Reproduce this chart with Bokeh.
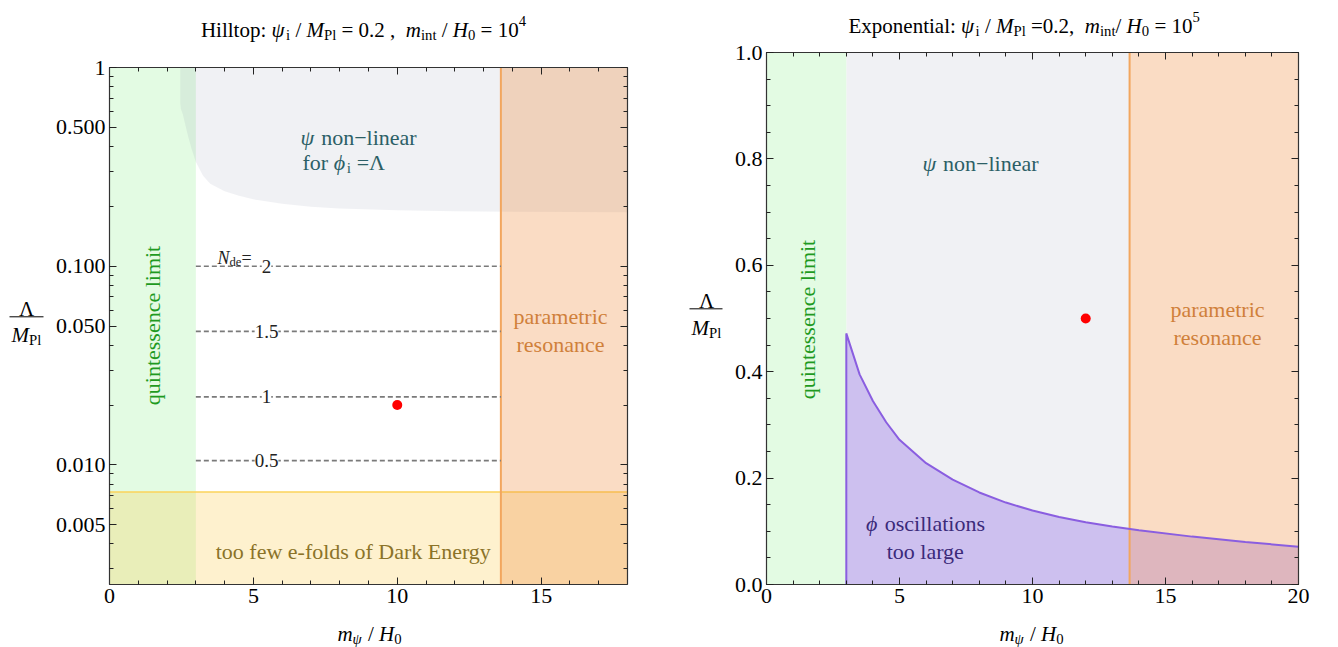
import math
from bokeh.plotting import figure
from bokeh.models import (Label, Arrow, FixedTicker, LinearAxis, LogAxis, Range1d,
                          CustomJSTickFormatter, PrintfTickFormatter)
from bokeh.layouts import row, column
from bokeh.embed import file_html
from bokeh.resources import INLINE

FONT = "Liberation Serif"

# ---------------- data: Hilltop panel ----------------
hill_m_range = (0.0, 18.0)
hill_lam_range = (0.0025, 1.0)
hill_quint_limit = 3.0
hill_param_res = 13.6
hill_efold_limit = 0.0073
hill_nl_m = [2.46, 2.48, 2.55, 2.7, 2.85, 3.0, 3.25, 3.5, 4.0, 4.5, 5.0, 6.0, 7.0, 8.0, 10.0, 12.0, 14.0, 18.0]
hill_nl_lam = [0.66, 0.62, 0.58, 0.47, 0.39, 0.335, 0.285, 0.26, 0.238, 0.226, 0.217, 0.206,
               0.199, 0.195, 0.191, 0.189, 0.188, 0.187]
nde_labels = ["2", "1.5", "1", "0.5"]
nde_lam = [0.1, 0.047, 0.022, 0.0105]
hill_point_m = [10.0]
hill_point_lam = [0.020]
hill_x_ticks = [0, 5, 10, 15]
hill_x_minor = list(range(0, 19))
hill_y_ticks = [0.005, 0.01, 0.05, 0.1, 0.5, 1.0]
hill_y_minor = [0.003, 0.004, 0.006, 0.007, 0.008, 0.009,
                0.02, 0.03, 0.04, 0.06, 0.07, 0.08, 0.09,
                0.2, 0.3, 0.4, 0.6, 0.7, 0.8, 0.9]

# ---------------- data: Exponential panel ----------------
exp_m_range = (0.0, 20.0)
exp_lam_range = (0.0, 1.0)
exp_quint_limit = 3.0
exp_param_res = 13.65
exp_osc_m = [3.0, 3.5, 4.0, 4.5, 5.0, 6.0, 7.0, 8.0, 9.0, 10.0, 11.0, 12.0, 13.0, 14.0, 16.0, 18.0, 20.0]
exp_osc_lam = [0.472, 0.395, 0.345, 0.305, 0.272, 0.228, 0.197, 0.173, 0.154, 0.139, 0.127,
               0.117, 0.109, 0.102, 0.09, 0.08, 0.071]
exp_point_m = [12.0]
exp_point_lam = [0.5]
exp_x_ticks = [0, 5, 10, 15, 20]
exp_x_minor = list(range(0, 21))
exp_y_ticks = [0.0, 0.2, 0.4, 0.6, 0.8, 1.0]
exp_y_minor = [i * 0.05 for i in range(21)]

# ---------------- colours ----------------
GREEN = "#e3fbe3"
GRAY = "#8a96aa"; GRAY_A = 0.13
YELLOW = "#fbc83c"; YELLOW_A = 0.25
ORANGE = "#f08c3c"; ORANGE_A = 0.30
ORANGE_LINE = "#f2a65e"
YELLOW_LINE = "#fbd35a"
PURPLE = "#8c64e6"; PURPLE_A = 0.35
PURPLE_LINE = "#8a5ee0"
C_NL = "#2c5f66"
C_Q = "#1f9a1f"
C_PR = "#d0803a"
C_EF = "#8b7328"
C_OSC = "#3b2a7a"

# ---------------- text helpers ----------------
CW = {' ': .25, ',': .25, '-': .333, '.': .25, '/': .278, ':': .278, '=': .564,
      'A': .722, 'D': .722, 'E': .611, 'H': .722, 'M': .889, 'N': .722, 'P': .556,
      'a': .444, 'c': .444, 'd': .5, 'e': .444, 'f': .333, 'g': .5, 'i': .278, 'k': .5,
      'l': .278, 'm': .778, 'n': .5, 'o': .5, 'p': .5, 'r': .333, 's': .389, 't': .278,
      'u': .5, 'w': .722, 'x': .5, 'y': .5, 'ψ': .69, 'ϕ': .6, 'Λ': .72, '−': .564}
CWI = {'M': .833, 'm': .722, 'H': .722, 'N': .667, 'ψ': .69, 'ϕ': .6}


def cwidth(c, italic):
    if italic and c in CWI:
        return CWI[c]
    if c.isdigit():
        return 0.5
    return CW.get(c, 0.5)


def rich(p, runs, x, y, size, color, align="left"):
    items = []
    cur = 0.0
    for txt, st in runs:
        s = size * (0.7 if st in ("sub", "isub", "sup") else 1.0)
        italic = st in ("i", "isub")
        core = txt.strip(' ')
        if not core:
            cur += len(txt) * 0.25 * s
            continue
        lead = len(txt) - len(txt.lstrip(' '))
        trail = len(txt) - len(txt.rstrip(' '))
        cur += lead * 0.25 * s
        w = sum(cwidth(c, italic) for c in core) * s
        if st in ("sub", "isub"):
            dy = -0.24 * size
        elif st == "sup":
            dy = 0.42 * size
        else:
            dy = 0.0
        items.append((core, cur, dy, s, italic))
        cur += w + trail * 0.25 * s
    shift = -cur / 2 if align == "center" else 0.0
    for core, off, dy, s, it in items:
        p.add_layout(Label(x=x, y=y, x_offset=off + shift, y_offset=dy, text=core,
                           text_font=FONT, text_font_size=f"{s:.1f}px",
                           text_font_style="italic" if it else "normal",
                           text_color=color, text_baseline="alphabetic",
                           text_align="left"))


def style_axes(p, blanks):
    for ax in p.axis:
        ax.axis_line_color = "#333333"
        ax.axis_line_width = 1.2
        ax.major_tick_in = 7
        ax.major_tick_out = 0
        ax.minor_tick_in = 4
        ax.minor_tick_out = 0
        ax.major_tick_line_color = "#222222"
        ax.minor_tick_line_color = "#222222"
        ax.major_label_text_font = FONT
        ax.major_label_text_font_size = "22px"
        ax.major_label_text_color = "black"
        ax.major_label_standoff = 4
    for ax in blanks:
        ax.major_label_text_font_size = "0px"
        ax.major_label_standoff = 0


def helper(w, h):
    f = figure(width=w, height=h, x_range=Range1d(0, w), y_range=Range1d(h, 0),
               output_backend="svg", toolbar_location=None,
               x_axis_location=None, y_axis_location=None,
               min_border=0, min_border_left=0, min_border_right=0,
               min_border_top=0, min_border_bottom=0)
    f.xgrid.visible = False
    f.ygrid.visible = False
    f.outline_line_color = None
    f.background_fill_color = "white"
    f.border_fill_color = "white"
    return f


def base_fig(w, h, xr, yr, bl, br, bt, bb, log=False):
    kw = dict(y_axis_type="log") if log else {}
    f = figure(width=w, height=h, x_range=xr, y_range=yr, output_backend="svg",
               toolbar_location=None, min_border_left=bl, min_border_right=br,
               min_border_top=bt, min_border_bottom=bb, **kw)
    f.xgrid.visible = False
    f.ygrid.visible = False
    f.outline_line_color = None
    f.background_fill_color = "white"
    f.border_fill_color = "white"
    return f


blank = CustomJSTickFormatter(code="return '';")

# ================= LEFT: Hilltop =================
L_X0, L_X1, L_Y0, L_Y1 = 109, 627, 67, 584
LT_H, LX_H, LY_W, LW = 55, 30, 48, 680
LM_H = 647 - LT_H - LX_H


def lx(px):
    return hill_m_range[0] + (px - L_X0) * (hill_m_range[1] - hill_m_range[0]) / (L_X1 - L_X0)


def ly(py):
    a, b = math.log10(hill_lam_range[0]), math.log10(hill_lam_range[1])
    return 10 ** (b - (py - L_Y0) * (b - a) / (L_Y1 - L_Y0))


p1 = base_fig(LW - LY_W, LM_H, hill_m_range, hill_lam_range,
              L_X0 - LY_W, LW - L_X1, L_Y0 - LT_H, (647 - LX_H) - L_Y1, log=True)

lo, hi = hill_lam_range
p1.quad(left=hill_m_range[0], right=hill_quint_limit, bottom=lo, top=hi,
        fill_color=GREEN, line_color=None)
p1.patch([hill_nl_m[0]] + hill_nl_m + [hill_nl_m[-1]], [hi] + hill_nl_lam + [hi],
         fill_color=GRAY, fill_alpha=GRAY_A, line_color=None)
p1.quad(left=hill_m_range[0], right=hill_m_range[1], bottom=lo, top=hill_efold_limit,
        fill_color=YELLOW, fill_alpha=YELLOW_A, line_color=None)
p1.line([hill_m_range[0], hill_m_range[1]], [hill_efold_limit, hill_efold_limit],
        line_color=YELLOW_LINE, line_width=1.6)
p1.quad(left=hill_param_res, right=hill_m_range[1], bottom=lo, top=hi,
        fill_color=ORANGE, fill_alpha=ORANGE_A, line_color=None)
p1.line([hill_param_res, hill_param_res], [lo, hi], line_color=ORANGE_LINE, line_width=2)
p1.segment(x0=[hill_quint_limit] * len(nde_lam), x1=[hill_param_res] * len(nde_lam),
           y0=nde_lam, y1=nde_lam, line_color="#7a7a7a", line_width=1.6, line_dash="5 3")
p1.scatter(hill_point_m, hill_point_lam, size=10, color="red", line_color=None)

for lab, lam in zip(nde_labels, nde_lam):
    p1.add_layout(Label(x=lx(266), y=lam, text=lab, text_font=FONT, text_font_size="19px",
                        text_color="#222222", text_align="center", text_baseline="middle",
                        background_fill_color="white"))
rich(p1, [("N", "i"), ("de", "sub"), ("=", "r")], lx(217), ly(257), 18, "#222222")

p1.xaxis.ticker = FixedTicker(ticks=hill_x_ticks, minor_ticks=hill_x_minor)
p1.yaxis.ticker = FixedTicker(ticks=hill_y_ticks, minor_ticks=hill_y_minor)
p1.yaxis.formatter = CustomJSTickFormatter(code="return tick >= 0.999 ? '1' : tick.toFixed(3);")
top1 = LinearAxis(ticker=FixedTicker(ticks=hill_x_ticks, minor_ticks=hill_x_minor), formatter=blank)
right1 = LogAxis(ticker=FixedTicker(ticks=hill_y_ticks, minor_ticks=hill_y_minor), formatter=blank)
p1.add_layout(top1, "above")
p1.add_layout(right1, "right")
style_axes(p1, [top1, right1])

rich(p1, [("ψ", "i"), (" non−linear", "r")], lx(300), ly(137), 22, C_NL)
rich(p1, [("for ", "r"), ("ϕ", "i"), ("i", "sub"), (" =Λ", "r")], lx(302), ly(162), 22, C_NL)
p1.add_layout(Label(x=lx(152), y=ly(325), text="quintessence limit", angle=math.pi / 2,
                    text_font=FONT, text_font_size="22px", text_color=C_Q,
                    text_align="center", text_baseline="middle"))
rich(p1, [("parametric", "r")], lx(560), ly(316), 22, C_PR, align="center")
rich(p1, [("resonance", "r")], lx(560), ly(344), 22, C_PR, align="center")
rich(p1, [("too few e-folds of Dark Energy", "r")], lx(353), ly(551), 22, C_EF, align="center")

# title / axis-label strips (pixel coordinates)
t1 = helper(LW, LT_H)
rich(t1, [("Hilltop: ", "r"), ("ψ", "i"), ("i", "sub"), (" / ", "r"), ("M", "i"), ("Pl", "sub"),
          (" = 0.2 ,  ", "r"), ("m", "i"), ("int", "sub"), (" / ", "r"), ("H", "i"), ("0", "sub"),
          (" = 10", "r"), ("4", "sup")], 363, 29, 21, "black", align="center")
yl1 = helper(LY_W, LM_H)
rich(yl1, [("Λ", "r")], 26, 318 - LT_H, 21, "black", align="center")
rich(yl1, [("M", "i"), ("Pl", "sub")], 26, 346 - LT_H, 21, "black", align="center")
yl1.add_layout(Arrow(end=None, x_start=9, x_end=43, y_start=326 - LT_H, y_end=326 - LT_H,
                     line_color="black", line_width=1))
xl1 = helper(LW, LX_H)
rich(xl1, [("m", "i"), ("ψ", "isub"), (" / ", "r"), ("H", "i"), ("0", "sub")],
     369, 633 - (647 - LX_H), 21, "black", align="center")

left_panel = column(t1, row(yl1, p1), xl1)

# ================= RIGHT: Exponential =================
R_OFF = 680
R_X0, R_X1, R_Y0, R_Y1 = 766, 1298, 52, 584
RT_H, RX_H, RY_W, RW = 40, 30, 48, 658
RM_H = 647 - RT_H - RX_H


def rx(px):
    return exp_m_range[0] + (px - R_X0) * (exp_m_range[1] - exp_m_range[0]) / (R_X1 - R_X0)


def ry(py):
    return exp_lam_range[0] + (R_Y1 - py) * (exp_lam_range[1] - exp_lam_range[0]) / (R_Y1 - R_Y0)


p2 = base_fig(RW - RY_W, RM_H, exp_m_range, exp_lam_range,
              R_X0 - R_OFF - RY_W, 1338 - R_X1, R_Y0 - RT_H, (647 - RX_H) - R_Y1)

lo2, hi2 = exp_lam_range
p2.quad(left=exp_quint_limit, right=exp_param_res, bottom=lo2, top=hi2,
        fill_color=GRAY, fill_alpha=GRAY_A, line_color=None)
p2.quad(left=exp_m_range[0], right=exp_quint_limit, bottom=lo2, top=hi2,
        fill_color=GREEN, line_color=None)
p2.patch([exp_osc_m[0]] + exp_osc_m + [exp_osc_m[-1]], [lo2] + exp_osc_lam + [lo2],
         fill_color=PURPLE, fill_alpha=PURPLE_A, line_color=None)
p2.quad(left=exp_param_res, right=exp_m_range[1], bottom=lo2, top=hi2,
        fill_color=ORANGE, fill_alpha=ORANGE_A, line_color=None)
p2.line([exp_param_res, exp_param_res], [lo2, hi2], line_color=ORANGE_LINE, line_width=2)
p2.line([exp_osc_m[0]] + exp_osc_m, [lo2] + exp_osc_lam, line_color=PURPLE_LINE, line_width=2)
p2.scatter(exp_point_m, exp_point_lam, size=10, color="red", line_color=None)

p2.xaxis.ticker = FixedTicker(ticks=exp_x_ticks, minor_ticks=exp_x_minor)
p2.yaxis.ticker = FixedTicker(ticks=exp_y_ticks, minor_ticks=exp_y_minor)
p2.yaxis.formatter = PrintfTickFormatter(format="%.1f")
top2 = LinearAxis(ticker=FixedTicker(ticks=exp_x_ticks, minor_ticks=exp_x_minor), formatter=blank)
right2 = LinearAxis(ticker=FixedTicker(ticks=exp_y_ticks, minor_ticks=exp_y_minor), formatter=blank)
p2.add_layout(top2, "above")
p2.add_layout(right2, "right")
style_axes(p2, [top2, right2])

rich(p2, [("ψ", "i"), (" non−linear", "r")], rx(980), ry(163), 22, C_NL, align="center")
p2.add_layout(Label(x=rx(807), y=ry(319), text="quintessence limit", angle=math.pi / 2,
                    text_font=FONT, text_font_size="22px", text_color=C_Q,
                    text_align="center", text_baseline="middle"))
rich(p2, [("parametric", "r")], rx(1217), ry(309), 22, C_PR, align="center")
rich(p2, [("resonance", "r")], rx(1217), ry(337), 22, C_PR, align="center")
rich(p2, [("ϕ", "i"), (" oscillations", "r")], rx(925), ry(523), 22, C_OSC, align="center")
rich(p2, [("too large", "r")], rx(925), ry(551), 22, C_OSC, align="center")

t2 = helper(RW, RT_H)
rich(t2, [("Exponential: ", "r"), ("ψ", "i"), ("i", "sub"), (" / ", "r"), ("M", "i"), ("Pl", "sub"),
          (" =0.2,  ", "r"), ("m", "i"), ("int", "sub"), ("/ ", "r"), ("H", "i"), ("0", "sub"),
          (" = 10", "r"), ("5", "sup")], 848 - R_OFF, 25, 21, "black")
yl2 = helper(RY_W, RM_H)
rich(yl2, [("Λ", "r")], 706 - R_OFF, 310 - RT_H, 21, "black", align="center")
rich(yl2, [("M", "i"), ("Pl", "sub")], 706 - R_OFF, 339 - RT_H, 21, "black", align="center")
yl2.add_layout(Arrow(end=None, x_start=689 - R_OFF, x_end=722 - R_OFF,
                     y_start=318 - RT_H, y_end=318 - RT_H, line_color="black", line_width=1))
xl2 = helper(RW, RX_H)
rich(xl2, [("m", "i"), ("ψ", "isub"), (" / ", "r"), ("H", "i"), ("0", "sub")],
     1031 - R_OFF, 633 - (647 - RX_H), 21, "black", align="center")

right_panel = column(t2, row(yl2, p2), xl2)

layout = row(left_panel, right_panel)
open("out.html", "w").write(file_html(layout, INLINE))
